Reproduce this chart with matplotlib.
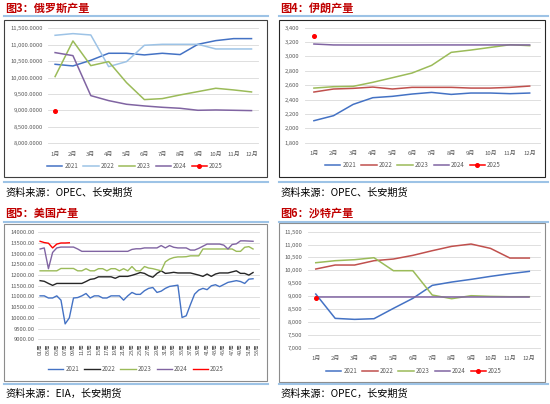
import numpy as np
import matplotlib
matplotlib.use('Agg')
import matplotlib.pyplot as plt
from matplotlib.patches import Rectangle
from matplotlib.lines import Line2D
from matplotlib.ticker import FuncFormatter

plt.rcParams['font.family'] = ['Noto Sans CJK SC', 'DejaVu Sans']

W, H = 550, 404

# ---- data ----
months = ['1月', '2月', '3月', '4月', '5月', '6月', '7月', '8月', '9月', '10月', '11月', '12月']
years = ['2021', '2022', '2023', '2024', '2025']

# Russia (thousand b/d)
ru_2021 = [10405, 10354, 10526, 10740, 10740, 10690, 10740, 10700, 11013, 11125, 11186, 11186]
ru_2022 = [11287, 11338, 11297, 10334, 10486, 10983, 11013, 11013, 11013, 10871, 10871, 10871]
ru_2023 = [10030, 11115, 10364, 10486, 9847, 9330, 9360, 9472, 9573, 9675, 9624, 9563]
ru_2024 = [10760, 10668, 9451, 9299, 9188, 9137, 9096, 9066, 9005, 9015, 9005, 8995]
ru_2025 = [8995]

# Iran
ir_2021 = [2106, 2176, 2333, 2426, 2445, 2477, 2500, 2472, 2491, 2491, 2482, 2491]
ir_2022 = [2505, 2547, 2556, 2574, 2547, 2570, 2570, 2570, 2560, 2560, 2570, 2588]
ir_2023 = [2560, 2579, 2584, 2640, 2704, 2769, 2876, 3057, 3089, 3126, 3163, 3150]
ir_2024 = [3173, 3160, 3159, 3159, 3159, 3159, 3160, 3160, 3160, 3160, 3160, 3160]
ir_2025 = [3289]

# US weekly
us_2021 = [11030, 11030, 10930, 10930, 11030, 10830, 9720, 10000, 10930, 10950,
           11030, 11140, 10930, 11030, 11030, 10930, 10930, 11030, 11030, 11030,
           10830, 11030, 11190, 11100, 11100, 11270, 11380, 11420, 11190, 11250,
           11380, 11470, 11500, 11530, 10020, 10100, 10620, 11110, 11300, 11380,
           11320, 11500, 11550, 11460, 11560, 11660, 11700, 11740, 11700, 11610,
           11810, 11830]
us_2022 = [11740, 11710, 11610, 11520, 11610, 11610, 11610, 11610, 11610, 11610,
           11610, 11700, 11800, 11830, 11920, 11920, 11920, 11920, 11850, 11940,
           11940, 11940, 11990, 12050, 12120, 12080, 11970, 11900, 12080, 12200,
           12080, 12100, 12130, 12100, 12100, 12100, 12100, 12050, 12000, 11940,
           12050, 11940, 12050, 12100, 12100, 12100, 12150, 12200, 12080, 12080,
           12000, 12120]
us_2023 = [12200, 12200, 12200, 12200, 12200, 12310, 12310, 12310, 12310, 12200,
           12200, 12300, 12200, 12200, 12300, 12300, 12200, 12300, 12300, 12200,
           12300, 12200, 12400, 12200, 12200, 12400, 12330, 12300, 12250, 12200,
           12620, 12750, 12820, 12850, 12850, 12860, 12900, 12900, 12900, 13220,
           13220, 13220, 13220, 13220, 13220, 13220, 13220, 13110, 13110, 13300,
           13330, 13220]
us_2024 = [13220, 13270, 12300, 13060, 13270, 13310, 13310, 13310, 13310, 13220,
           13110, 13110, 13110, 13110, 13110, 13110, 13110, 13110, 13110, 13110,
           13110, 13110, 13200, 13230, 13230, 13270, 13270, 13270, 13270, 13380,
           13270, 13380, 13300, 13270, 13270, 13270, 13170, 13170, 13250, 13350,
           13450, 13450, 13450, 13450, 13400, 13220, 13430, 13460, 13600, 13600,
           13590, 13580]
us_2025 = [13580, 13520, 13490, 13270, 13450, 13500, 13500, 13510]
us_weeks = ['%02d周' % w for w in range(1, 54)]

# Saudi
sa_2021 = [9082, 8138, 8099, 8125, 8526, 8914, 9418, 9547, 9651, 9767, 9871, 9961]
sa_2022 = [10052, 10207, 10207, 10375, 10440, 10582, 10763, 10931, 11022, 10853, 10478, 10478]
sa_2023 = [10297, 10375, 10414, 10491, 9987, 9987, 9043, 8901, 9017, 8991, 8978, 8978]
sa_2024 = [8980, 8980, 8980, 8980, 8980, 8980, 8980, 8980, 8980, 8980, 8980, 8980]
sa_2025 = [8940]

C_BLUE = '#4472c4'
C_LBLUE = '#9dc3e6'
C_RED2 = '#c0504d'
C_GREEN = '#9bbb59'
C_PURPLE = '#8064a2'
C_RED = '#ff0000'
C_BLACK = '#262626'
TXT = '#595959'

fig = plt.figure(figsize=(W / 100, H / 100), dpi=100)
fig.patch.set_facecolor('white')


def fline(x0, x1, y, color=C_LBLUE, lw=1.5):
    fig.add_artist(Line2D([x0 / W, x1 / W], [1 - y / H, 1 - y / H], color=color, lw=lw,
                          transform=fig.transFigure))


def fbox(x0, x1, y0, y1, color):
    fig.add_artist(Rectangle((x0 / W, 1 - y1 / H), (x1 - x0) / W, (y1 - y0) / H,
                             transform=fig.transFigure, fill=False, ec=color, lw=0.8))


def ftext(x, y, s, **kw):
    fig.text(x / W, 1 - y / H, s, va='center', ha='left', **kw)


def panel(x0, x1, y0, y1):
    return fig.add_axes([x0 / W, 1 - y1 / H, (x1 - x0) / W, (y1 - y0) / H])


def style(ax, ylim, yticks, fmt, ypad, xpad):
    ax.set_ylim(ylim)
    ax.set_yticks(yticks)
    ax.yaxis.set_major_formatter(FuncFormatter(fmt))
    ax.grid(axis='y', color='#d9d9d9', lw=0.6)
    ax.set_axisbelow(True)
    for gl in ax.get_ygridlines():
        gl.set_clip_on(False)
    for s in ax.spines.values():
        s.set_visible(False)
    ax.tick_params(axis='y', length=0, labelsize=4.2, colors=TXT, pad=ypad)
    ax.tick_params(axis='x', length=0, labelsize=4.3, colors=TXT, pad=xpad)
    ax.set_facecolor('none')


def add_legend(ax, cx, cy):
    leg = ax.legend(loc='center', bbox_to_anchor=(cx / W, 1 - cy / H), bbox_transform=fig.transFigure,
                    ncol=5, frameon=False, fontsize=4.4, handlelength=2.5, handletextpad=0.35,
                    columnspacing=0.8)
    for t in leg.get_texts():
        t.set_color(TXT)


def monthly(ax, series, colors, last_marker=True):
    x = np.arange(1, 13)
    for name, vals, c in zip(years, series, colors):
        if name == '2025' and last_marker:
            ax.plot(x[:len(vals)], vals, color=c, lw=1.1, marker='o', ms=2.6, label=name, zorder=5)
        else:
            ax.plot(x[:len(vals)], vals, color=c, lw=1.1, label=name)
    ax.set_xticks(x)
    ax.set_xticklabels(months)


# ---- frame decorations ----
titles = [(5, 8, '图3：俄罗斯产量'), (280, 8, '图4：伊朗产量'),
          (5, 213, '图5：美国产量'), (280, 213, '图6：沙特产量')]
for x, y, s in titles:
    ftext(x, y, s, fontsize=8, fontweight='bold', color='#c00000')

sources = [(5, 193, '资料来源：OPEC、长安期货'), (280, 193, '资料来源：OPEC、长安期货'),
           (5, 394, '资料来源：EIA，长安期货'), (280, 394, '资料来源：OPEC，长安期货')]
for x, y, s in sources:
    ftext(x, y, s, fontsize=7.3, color='black')

for y in (16, 182, 222, 384):
    fline(4, 268, y)
    fline(279, 548, y)

fbox(4, 266.5, 20, 177, '#404040')
fbox(279, 544.5, 20, 177, '#262626')
fbox(4, 266.5, 223.5, 380.5, '#8c8c8c')
fbox(279, 544.5, 223, 381.5, '#8c8c8c')

# ---- Russia ----
ax = panel(48.3, 258.3, 28.3, 143.3)
monthly(ax, [ru_2021, ru_2022, ru_2023, ru_2024, ru_2025], [C_BLUE, C_LBLUE, C_GREEN, C_PURPLE, C_RED])
ax.set_xlim(0.62, 12.38)
style(ax, (8000, 11500), np.arange(8000, 11501, 500), lambda v, p: '{:,.4f}'.format(v), 4, 6)
add_legend(ax, 135, 166)

# ---- Iran ----
ax = panel(304.5, 539.7, 27.7, 142.7)
monthly(ax, [ir_2021, ir_2022, ir_2023, ir_2024, ir_2025], [C_BLUE, C_RED2, C_GREEN, C_PURPLE, C_RED])
ax.set_xlim(0.52, 12.51)
style(ax, (1800, 3400), np.arange(1800, 3401, 200), lambda v, p: '{:,.0f}'.format(v), 4, 6)
add_legend(ax, 413, 165)

# ---- US ----
ax = panel(38, 259.3, 232.3, 339.3)
for name, vals, c in zip(years, [us_2021, us_2022, us_2023, us_2024, us_2025],
                         [C_BLUE, C_BLACK, C_GREEN, C_PURPLE, C_RED]):
    ax.plot(np.arange(1, len(vals) + 1), vals, color=c, lw=1.0, label=name)
ax.set_xlim(0.5, 53.5)
ax.set_xticks(np.arange(1, 54, 2))
ax.set_xticklabels(us_weeks[::2], rotation=90, va='top', ha='center')
style(ax, (9000, 14000), np.arange(9000, 14001, 500), lambda v, p: '{:.2f}'.format(v), 2.5, 3)
ax.tick_params(axis='x', labelsize=4.0)
add_legend(ax, 136, 369)

# ---- Saudi ----
ax = panel(308, 540, 231.7, 347.7)
monthly(ax, [sa_2021, sa_2022, sa_2023, sa_2024, sa_2025], [C_BLUE, C_RED2, C_GREEN, C_PURPLE, C_RED])
ax.set_xlim(0.6, 12.55)
style(ax, (7000, 11500), np.arange(7000, 11501, 500), lambda v, p: '{:,.0f}'.format(v), 4, 6)
add_legend(ax, 414, 371)

fig.savefig('out.png', dpi=100, facecolor='white')
